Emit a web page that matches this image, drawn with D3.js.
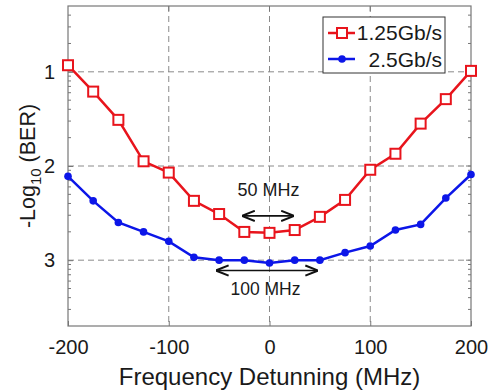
<!DOCTYPE html>
<html>
<head>
<meta charset="utf-8">
<script src="https://cdn.jsdelivr.net/npm/d3@7"></script>
<style>
  body { margin: 0; background: #fff; }
  text { font-family: "Liberation Sans", Arial, sans-serif; fill: #1a1a1a; }
</style>
</head>
<body>
<svg width="488" height="392"></svg>
<script>
//data
const detuning = [-200, -175, -150, -125, -100, -75, -50, -25, 0, 25, 50, 75, 100, 125, 150, 175, 200];
const ber125 = [0.93, 1.21, 1.51, 1.95, 2.07, 2.37, 2.51, 2.70, 2.71, 2.68, 2.54, 2.36, 2.04, 1.87, 1.55, 1.29, 0.99];
const ber25 = [2.11, 2.37, 2.60, 2.70, 2.80, 2.97, 3.00, 3.00, 3.03, 3.00, 3.00, 2.92, 2.85, 2.68, 2.62, 2.34, 2.09];
const xTicks = [-200, -100, 0, 100, 200];
const yTicks = [1, 2, 3];

//constants
const margin = {top: 6, right: 17, bottom: 66, left: 68};
const width = 488 - margin.left - margin.right;
const height = 392 - margin.top - margin.bottom;
const red = "#e8141c";
const blue = "#0c16e8";

let svg = d3.select("svg")
    .append("g")
    .attr("transform", "translate(" + margin.left + "," + margin.top + ")");

//scales
let xScale = d3.scaleLinear().domain([-200, 200]).range([0, width]);
let yScale = d3.scaleLinear().domain([Math.log10(2), 4 - Math.log10(2)]).range([0, height]);

//minor ticks (log spacing of BER)
let minor = [];
for (let n = 1; n <= 4; n++) {
    for (let k = 2; k <= 9; k++) {
        let v = n - Math.log10(k);
        if (v > yScale.domain()[0] + 0.01 && v < yScale.domain()[1] - 0.01) minor.push(v);
    }
}

//grid
svg.append("g").selectAll("line").data(xTicks.slice(1, -1)).join("line")
    .attr("x1", d => xScale(d)).attr("x2", d => xScale(d))
    .attr("y1", 0).attr("y2", height)
    .attr("stroke", "#8a8a8a").attr("stroke-width", 1).attr("stroke-dasharray", "6,4");

svg.append("g").selectAll("line").data(yTicks).join("line")
    .attr("x1", 0).attr("x2", width)
    .attr("y1", d => yScale(d)).attr("y2", d => yScale(d))
    .attr("stroke", "#8a8a8a").attr("stroke-width", 1).attr("stroke-dasharray", "6,4");

//axes
let xAxis = d3.axisBottom(xScale).tickValues(xTicks).tickFormat(d => String(d))
    .tickSize(5).tickSizeOuter(0).tickPadding(9);
let yAxis = d3.axisLeft(yScale).tickValues(yTicks).tickFormat(d => String(d))
    .tickSize(5).tickSizeOuter(0).tickPadding(8);

let gx = svg.append("g").attr("transform", "translate(0," + height + ")").call(xAxis);
gx.selectAll(".tick line").attr("y2", -5);
let gy = svg.append("g").call(yAxis);
gy.selectAll(".tick line").attr("x2", 5);

[gx, gy].forEach(g => {
    g.select(".domain").remove();
    g.selectAll(".tick line").attr("stroke", "#777");
    g.selectAll(".tick text").style("font-size", "20px").attr("fill", "#1a1a1a");
});

svg.append("g").selectAll("line").data(xTicks.slice(1, -1)).join("line")
    .attr("x1", d => xScale(d)).attr("x2", d => xScale(d))
    .attr("y1", 0).attr("y2", 5).attr("stroke", "#777");

svg.append("g").selectAll("line").data(minor).join("line")
    .attr("x1", 0).attr("x2", 3)
    .attr("y1", d => yScale(d)).attr("y2", d => yScale(d)).attr("stroke", "#777");
svg.append("g").selectAll("line").data(minor).join("line")
    .attr("x1", width - 3).attr("x2", width)
    .attr("y1", d => yScale(d)).attr("y2", d => yScale(d)).attr("stroke", "#777");
svg.append("g").selectAll("line").data(yTicks).join("line")
    .attr("x1", width - 5).attr("x2", width)
    .attr("y1", d => yScale(d)).attr("y2", d => yScale(d)).attr("stroke", "#777");

//frame
svg.append("rect")
    .attr("width", width).attr("height", height)
    .attr("fill", "none").attr("stroke", "#777").attr("stroke-width", 1.2);

//lines
let line = d3.line().x(d => xScale(d[0])).y(d => yScale(d[1]));

svg.append("path")
    .datum(d3.zip(detuning, ber25))
    .attr("fill", "none").attr("stroke", blue).attr("stroke-width", 2.5)
    .attr("d", line);
svg.append("g").selectAll("circle").data(d3.zip(detuning, ber25)).join("circle")
    .attr("cx", d => xScale(d[0])).attr("cy", d => yScale(d[1]))
    .attr("r", 3.8).attr("fill", blue);

svg.append("path")
    .datum(d3.zip(detuning, ber125))
    .attr("fill", "none").attr("stroke", red).attr("stroke-width", 2.5)
    .attr("d", line);
svg.append("g").selectAll("rect").data(d3.zip(detuning, ber125)).join("rect")
    .attr("x", d => xScale(d[0]) - 5).attr("y", d => yScale(d[1]) - 5)
    .attr("width", 10).attr("height", 10)
    .attr("fill", "#fff").attr("stroke", red).attr("stroke-width", 2);

//annotations
svg.append("defs").append("marker")
    .attr("id", "ah")
    .attr("viewBox", "0 0 10 10")
    .attr("refX", 9).attr("refY", 5)
    .attr("markerWidth", 8).attr("markerHeight", 8)
    .attr("orient", "auto-start-reverse")
    .append("path").attr("d", "M0,1 L10,5 L0,9").attr("fill", "none").attr("stroke", "#111").attr("stroke-width", 1.6);

svg.append("line")
    .attr("x1", xScale(-26)).attr("x2", xScale(23))
    .attr("y1", yScale(2.53)).attr("y2", yScale(2.53))
    .attr("stroke", "#111").attr("stroke-width", 1.6)
    .attr("marker-start", "url(#ah)").attr("marker-end", "url(#ah)");
svg.append("text")
    .attr("x", xScale(-1)).attr("y", yScale(2.32))
    .style("text-anchor", "middle").style("font-size", "18px")
    .text("50 MHz");

svg.append("line")
    .attr("x1", xScale(-52)).attr("x2", xScale(47))
    .attr("y1", yScale(3.11)).attr("y2", yScale(3.11))
    .attr("stroke", "#111").attr("stroke-width", 1.6)
    .attr("marker-start", "url(#ah)").attr("marker-end", "url(#ah)");
svg.append("text")
    .attr("x", xScale(-4)).attr("y", yScale(3.37))
    .style("text-anchor", "middle").style("font-size", "17.5px")
    .text("100 MHz");

//legend
let legend = svg.append("g").attr("transform", "translate(255,11)");
legend.append("rect")
    .attr("width", 122).attr("height", 56)
    .attr("fill", "#fff").attr("stroke", "#333").attr("stroke-width", 1);
legend.append("line").attr("x1", 5).attr("x2", 32).attr("y1", 16).attr("y2", 16)
    .attr("stroke", red).attr("stroke-width", 2.5);
legend.append("rect").attr("x", 14).attr("y", 11).attr("width", 10).attr("height", 10)
    .attr("fill", "#fff").attr("stroke", red).attr("stroke-width", 2);
legend.append("text").attr("x", 119).attr("y", 23)
    .style("text-anchor", "end").style("font-size", "21px").text("1.25Gb/s");
legend.append("line").attr("x1", 5).attr("x2", 32).attr("y1", 42).attr("y2", 42)
    .attr("stroke", blue).attr("stroke-width", 2.5);
legend.append("circle").attr("cx", 19).attr("cy", 42).attr("r", 3.8).attr("fill", blue);
legend.append("text").attr("x", 119).attr("y", 50)
    .style("text-anchor", "end").style("font-size", "21px").text("2.5Gb/s");

//axes labels
svg.append("text")
    .attr("x", width / 2).attr("y", height + 59)
    .style("text-anchor", "middle").style("font-size", "24px")
    .text("Frequency Detunning (MHz)");

let ylab = svg.append("text")
    .attr("transform", "translate(" + (-33) + "," + (height / 2) + ") rotate(-90)")
    .style("text-anchor", "middle").style("font-size", "21.5px");
ylab.append("tspan").text("-Log");
ylab.append("tspan").attr("dy", 6).style("font-size", "15px").text("10");
ylab.append("tspan").attr("dy", -6).text(" (BER)");
</script>
</body>
</html>
